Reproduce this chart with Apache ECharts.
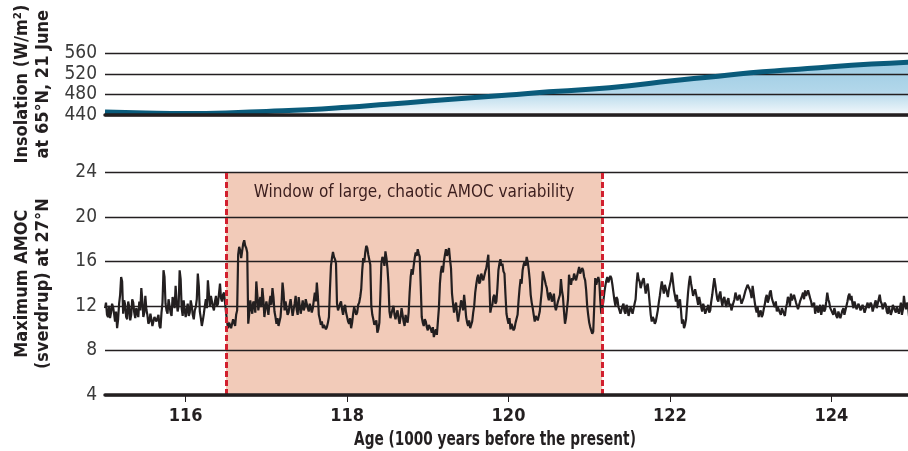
<!DOCTYPE html>
<html>
<head>
<meta charset="utf-8">
<script src="https://cdn.jsdelivr.net/npm/echarts@6/dist/echarts.min.js"></script>
<style>
html,body{margin:0;padding:0;background:#fff;}
#chart{width:908px;height:451px;}
</style>
</head>
<body>
<div id="chart"></div>
<script>
// ---------- DATA ----------
const xTicks = [116, 118, 120, 122, 124];
const xTitle = 'Age (1000 years before the present)';
const insolName = 'Insolation (W/m²)\nat 65°N, 21 June';
const amocName = 'Maximum AMOC\n(sverdrup) at 27°N';

const insolAges   = [115, 115.5, 116, 116.5, 117, 117.5, 118, 118.5, 119, 119.5, 120, 120.5, 121, 121.5, 122, 122.5, 123, 123.5, 124, 124.5, 125];
const insolValues = [446, 444, 443, 444, 447, 450, 455, 461, 467, 473, 479, 485, 490, 497, 506, 514, 522, 528, 534, 539, 543];

const windowStart = 116.5;
const windowEnd = 121.16;
const windowLabel = 'Window of large, chaotic AMOC variability';

// AMOC (Sv), one value every 0.0125 kyr starting at 115.000
const amocStart = 115, amocStep = 0.0125;
const amoc115 = [11.8,12.3,11.2,11.0,12.0,10.9,11.4,12.2,11.9,11.3,10.6,11.5,10.0,10.8,12.2,13.0,14.6,14.2,11.3,12.5,12.1,11.0,10.8,12.4,11.9,10.7,11.2,12.6,12.3,11.4,10.9,11.8,11.7,11.0,12.4,11.6,13.6,12.5,11.0,11.4,12.9,11.7,11.2,10.4,10.6,11.3,10.8,10.2,10.3,11.0,11.1,10.6,10.5,11.2,10.2,10.0,11.4,12.3,15.2,14.6,12.2,11.6,11.3,12.6,12.0,11.4,11.1,12.8,12.4,11.8,13.8,12.4,11.5,12.0,15.2,14.4,11.8,11.1,12.5,11.6];
const amoc116 = [11.0,11.7,12.2,11.1,11.4,12.5,12.0,11.2,10.8,11.6,11.9,12.6,14.9,13.8,11.5,10.9,10.2,10.7,11.3,12.0,12.6,11.8,14.3,13.1,12.0,12.9,12.8,11.9,11.6,12.4,12.9,12.0,12.2,13.1,14.0,12.7,12.4,13.0,13.2,12.3,11.4,10.6,10.0,10.5,10.6,10.0,10.1,10.8,10.5,10.2,11.2,11.6,16.6,17.3,17.0,16.3,16.4,17.6,17.9,17.4,17.2,16.8,10.4,11.3,12.5,11.8,11.3,12.4,12.2,11.4,14.2,13.0,11.6,12.3,12.8,11.9,13.6,12.6,11.0,11.8];
const amoc117 = [12.4,11.8,11.2,12.3,12.9,12.1,13.6,12.8,11.5,11.0,10.4,10.9,10.2,10.6,11.0,12.2,14.1,13.2,11.6,12.4,12.3,11.2,11.4,12.1,12.6,11.8,11.1,11.7,12.2,12.9,11.7,11.2,12.8,12.0,11.3,11.9,12.5,11.6,11.9,12.6,12.7,11.8,11.5,12.2,12.3,11.4,11.8,12.5,13.2,12.4,14.1,12.9,11.2,10.8,10.3,10.6,10.0,10.3,10.4,9.9,10.1,10.5,11.0,13.5,15.6,16.3,16.85,16.4,16.2,15.8,12.2,11.6,11.5,12.2,12.4,11.7,11.2,11.8,12.1,11.4];
const amoc118 = [11.0,10.6,10.4,10.9,10.0,10.5,11.3,11.9,12.0,11.2,11.4,12.1,12.3,12.8,13.5,15.2,16.3,15.9,16.8,17.4,17.2,16.6,16.5,15.7,12.0,11.2,10.8,10.3,10.2,10.7,9.6,9.9,10.5,13.0,15.8,16.4,16.2,15.6,16.9,16.3,15.4,14.0,11.5,10.9,11.0,11.7,12.0,11.2,10.8,11.3,11.6,10.9,10.4,11.0,11.8,11.2,10.6,10.2,11.2,10.7,10.5,11.4,13.2,14.6,15.3,14.8,15.6,16.3,16.8,16.5,17.1,16.7,16.4,13.8,11.0,10.5,10.2,10.8,10.6,10.1];
const amoc119 = [9.8,10.3,10.4,9.9,9.6,10.1,9.2,9.6,9.9,9.4,10.6,11.8,14.0,15.1,15.6,15.0,16.0,16.6,17.1,16.5,16.8,17.2,16.2,15.4,13.1,12.2,11.4,12.0,12.3,11.3,10.6,11.2,11.8,12.5,12.2,11.6,13.0,12.1,11.0,10.5,10.2,10.7,10.0,10.3,10.6,11.4,12.0,13.2,13.9,14.5,14.8,14.0,14.2,14.9,15.0,14.3,14.4,15.1,15.4,16.0,16.6,14.2,11.4,11.9,12.1,12.8,13.0,12.2,12.4,13.6,15.2,15.8,16.2,15.6,15.8,15.1,14.9,13.0,11.3,10.8];
const amoc120 = [10.4,10.9,9.9,10.4,10.3,9.8,10.0,10.5,10.4,11.2,12.5,13.6,14.4,14.0,15.2,15.7,16.0,15.6,16.4,16.0,15.3,14.4,13.0,12.3,11.8,11.2,10.6,11.1,11.2,10.7,10.8,11.5,11.6,13.4,15.1,14.7,14.6,13.9,13.6,12.9,12.5,13.2,13.0,12.4,12.6,13.1,12.0,11.6,11.7,12.4,12.3,13.0,14.4,13.4,12.8,11.5,10.4,10.9,10.9,12.6,14.8,14.2,13.9,14.5,14.3,14.9,15.0,14.3,14.4,15.1,15.5,14.9,14.8,15.4,15.2,14.6,14.3,13.4,12.0,11.2];
const amoc121 = [10.5,10.1,9.8,9.5,9.7,12.0,14.5,13.9,13.8,14.6,14.2,12.5,11.3,11.8,12.4,13.2,13.8,14.3,14.6,14.1,14.0,14.7,14.5,13.9,13.2,12.5,12.0,12.8,12.6,11.9,12.0,11.3,11.4,12.0,12.2,11.5,11.3,12.1,11.8,11.1,11.2,11.9,12.0,11.3,11.4,12.2,12.6,14.0,15.0,14.4,14.2,13.6,13.5,14.3,14.5,13.8,13.1,13.7,14.0,13.2,12.2,11.2,10.6,11.0,10.8,10.4,10.6,11.1,11.6,12.3,12.9,13.6,14.2,13.6,13.1,13.9,13.8,13.2,12.8,13.5];
const amoc122 = [13.6,14.3,15.0,14.2,13.4,12.9,12.4,13.0,11.8,12.3,12.6,11.6,10.4,10.8,10.0,10.3,10.8,12.0,13.2,14.1,14.7,14.0,13.5,12.9,12.8,13.5,13.4,12.6,12.1,12.8,12.7,11.9,11.5,12.2,11.9,11.3,11.2,11.8,12.1,11.4,11.6,12.4,13.0,13.8,14.5,13.9,13.2,12.6,12.4,13.0,13.3,12.5,12.0,12.6,12.8,12.2,11.9,12.5,12.7,12.0,12.2,11.6,11.7,12.3,12.6,13.2,13.1,12.5,12.4,13.0,12.9,12.2,12.1,12.7,12.8,13.4,13.3,13.9,14.0,13.5];
const amoc123 = [13.2,12.7,13.8,13.1,12.4,11.8,11.4,11.9,11.0,11.4,11.6,11.0,11.2,11.7,12.1,12.7,13.0,12.3,12.6,13.2,13.4,12.7,12.8,12.1,11.9,12.4,11.5,11.9,12.0,11.4,11.2,11.8,11.7,11.3,11.1,11.8,12.2,12.8,12.6,12.0,13.1,12.5,12.4,13.0,12.9,12.3,12.2,11.7,11.8,12.4,12.3,12.9,13.2,12.6,13.4,12.9,12.8,13.4,13.3,12.7,12.4,11.9,11.8,12.3,11.3,11.8,12.0,11.4,11.5,12.1,11.2,11.7,12.1,11.5,11.7,12.4,13.2,12.6,12.3,11.8];
const amoc124 = [11.9,11.4,11.2,11.8,11.7,11.1,10.9,11.5,11.5,10.9,11.0,11.6,11.8,11.2,11.3,12.0,12.4,12.9,13.1,12.5,12.9,12.2,11.8,12.4,12.3,11.7,11.6,12.2,12.2,11.6,11.5,12.1,12.0,11.4,11.4,12.0,12.3,11.8,11.7,12.3,12.1,11.5,11.6,12.2,12.5,11.8,11.9,12.6,13.0,12.4,12.2,11.7,11.6,12.3,12.1,11.5,11.3,11.9,11.9,11.2,11.5,12.1,12.2,11.6,11.4,11.9,12.0,11.3,11.8,12.3,11.2,11.7,12.9,12.1,11.7,12.3,12.0,11.1,10.5,10.9,11.2];

// ---------- BUILD ----------
const amocValues = [].concat(amoc115, amoc116, amoc117, amoc118, amoc119, amoc120, amoc121, amoc122, amoc123, amoc124);
const amocData = amocValues.map((v, i) => [+(amocStart + i * amocStep).toFixed(4), v]);
const insolData = insolAges.map((a, i) => [a, insolValues[i]]);

const NARROW = "'DejaVu Sans Condensed', 'Liberation Sans Narrow', 'Liberation Sans', sans-serif";
const INK = '#231f20';

const chart = echarts.init(document.getElementById('chart'), null, {renderer: 'canvas'});
chart.setOption({
  animation: false,
  backgroundColor: '#ffffff',
  grid: [
    {left: 105, top: 53.3, width: 807, height: 61.7, outerBoundsMode: 'none', containLabel: false},
    {left: 105, top: 172.3, width: 807, height: 222.7, outerBoundsMode: 'none', containLabel: false}
  ],
  xAxis: [
    {
      gridIndex: 0, type: 'value', min: 115, max: 125, z: 6,
      axisLine: {show: true, onZero: false, lineStyle: {color: INK, width: 3.5}},
      axisTick: {show: false}, axisLabel: {show: false}, splitLine: {show: false}
    },
    {
      gridIndex: 1, type: 'value', min: 115, max: 125, z: 6,
      axisLine: {show: true, onZero: false, lineStyle: {color: INK, width: 3.5}},
      axisTick: {show: true, length: 7, lineStyle: {color: INK, width: 1}, customValues: xTicks},
      axisLabel: {show: true, customValues: xTicks, margin: 12, fontFamily: NARROW, fontWeight: 'bold', fontSize: 18, color: INK},
      splitLine: {show: false}
    }
  ],
  yAxis: [
    {
      gridIndex: 0, type: 'value', min: 440, max: 560, interval: 40, z: 3,
      axisLine: {show: false}, axisTick: {show: false},
      axisLabel: {margin: 8, fontFamily: NARROW, fontSize: 19, color: '#3a3a3a'},
      splitLine: {show: true, lineStyle: {color: INK, width: 1.3}},
      name: insolName, nameLocation: 'middle', nameRotate: 90, nameGap: 51,
      nameTextStyle: {fontFamily: NARROW, fontWeight: 'bold', fontSize: 18, lineHeight: 21, color: INK}
    },
    {
      gridIndex: 1, type: 'value', min: 4, max: 24, interval: 4, z: 3,
      axisLine: {show: false}, axisTick: {show: false},
      axisLabel: {margin: 8, fontFamily: NARROW, fontSize: 19, color: '#3a3a3a'},
      splitLine: {show: true, lineStyle: {color: INK, width: 1.3}},
      name: amocName, nameLocation: 'middle', nameRotate: 90, nameGap: 51,
      nameTextStyle: {fontFamily: NARROW, fontWeight: 'bold', fontSize: 18, lineHeight: 21, color: INK}
    }
  ],
  graphic: [
    {
      type: 'text', x: 495, y: 440, z: 10,
      scaleX: 0.8,
      style: {text: xTitle, font: "bold 19px " + NARROW, fill: INK, align: 'center', verticalAlign: 'middle'}
    }
  ],
  series: [
    {
      name: 'insolation fill', type: 'line', xAxisIndex: 0, yAxisIndex: 0, z: 1,
      data: insolData, smooth: true, showSymbol: false, symbol: 'none', silent: true,
      lineStyle: {width: 0, opacity: 0},
      areaStyle: {
        origin: 'start', opacity: 1,
        color: new echarts.graphic.LinearGradient(0, 0, 0, 1, [
          {offset: 0, color: '#9ccbe3'},
          {offset: 0.55, color: '#b2d7ea'},
          {offset: 1, color: '#f4f9fc'}
        ])
      }
    },
    {
      name: 'insolation', type: 'line', xAxisIndex: 0, yAxisIndex: 0, z: 5,
      data: insolData, smooth: true, showSymbol: false, symbol: 'none',
      lineStyle: {color: '#0a5b7b', width: 5}
    },
    {
      name: 'window', type: 'line', xAxisIndex: 1, yAxisIndex: 1, z: 1,
      data: [], silent: true,
      markArea: {
        silent: true,
        itemStyle: {color: '#f2cbb9', opacity: 1},
        label: {show: true, position: 'insideTop', distance: 12, fontFamily: NARROW, fontSize: 17, color: '#3b1e1e'},
        data: [[{xAxis: windowStart, name: windowLabel}, {xAxis: windowEnd}]]
      }
    },
    {
      name: 'amoc', type: 'line', xAxisIndex: 1, yAxisIndex: 1, z: 4,
      data: amocData, showSymbol: false, symbol: 'none',
      lineStyle: {color: INK, width: 2.2}
    },
    {
      name: 'bounds', type: 'line', xAxisIndex: 1, yAxisIndex: 1, z: 5,
      data: [], silent: true,
      markLine: {
        silent: true, symbol: ['none', 'none'],
        label: {show: false},
        lineStyle: {color: '#d2202f', width: 3, type: [6, 3]},
        data: [{xAxis: windowStart}, {xAxis: windowEnd}]
      }
    }
  ]
});
</script>
</body>
</html>
